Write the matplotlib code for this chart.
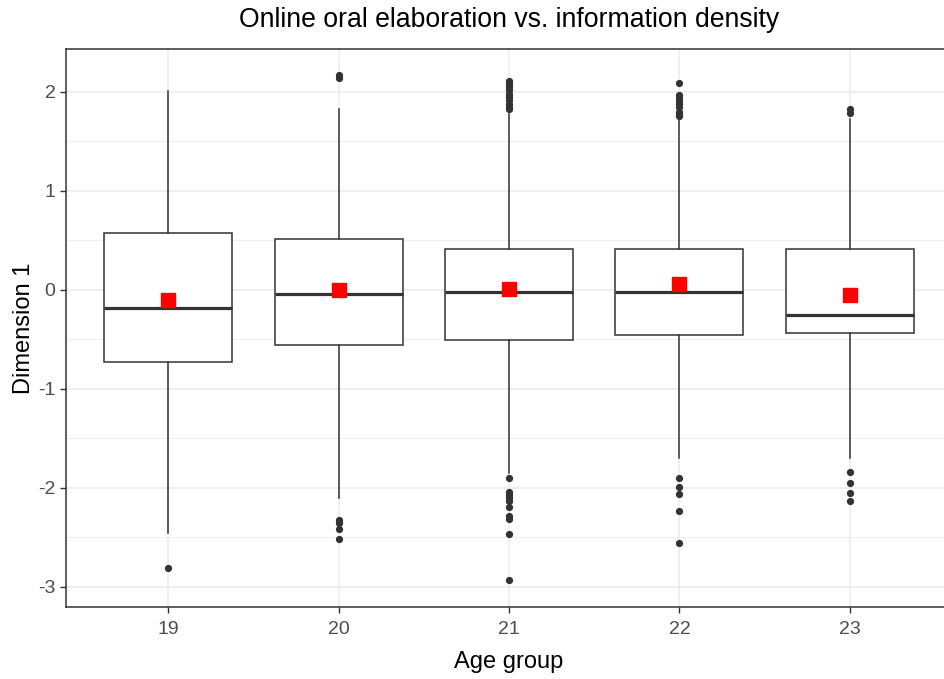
import numpy as np
import matplotlib.pyplot as plt
from matplotlib.ticker import MultipleLocator

plt.rcParams.update({
    'font.family': ['Liberation Sans', 'DejaVu Sans'],
    'axes.unicode_minus': False,
    'figure.dpi': 100,
})

# Summary statistics per age group (Dimension 1 scores)
groups = ['19', '20', '21', '22', '23']
q1 = [-0.724, -0.56, -0.51, -0.46, -0.44]
medians = [-0.187, -0.045, -0.022, -0.022, -0.257]
q3 = [0.577, 0.509, 0.41, 0.41, 0.41]
whisk_lo = [-2.46, -2.10, -1.85, -1.70, -1.70]
whisk_hi = [2.01, 1.83, 1.77, 1.715, 1.72]
means = [-0.106, -0.005, 0.012, 0.062, -0.055]
outliers = [
    [-2.81],
    [2.14, 2.17, -2.32, -2.35, -2.41, -2.515],
    [2.11, 2.08, 2.05, 2.02, 1.98, 1.95, 1.92, 1.88, 1.85, 1.83,
     -1.90, -2.04, -2.07, -2.10, -2.13, -2.19, -2.28, -2.31, -2.465, -2.925],
    [2.085, 1.97, 1.94, 1.91, 1.88, 1.85, 1.80, 1.77, 1.75,
     -1.90, -1.99, -2.065, -2.23, -2.56],
    [1.83, 1.78, -1.84, -1.95, -2.05, -2.135],
]

stats = []
for i, g in enumerate(groups):
    stats.append(dict(label=g, q1=q1[i], med=medians[i], q3=q3[i],
                      whislo=whisk_lo[i], whishi=whisk_hi[i],
                      mean=means[i], fliers=np.array(outliers[i])))

dark = '#333333'
fig = plt.figure(figsize=(9.45, 6.79))
ax = fig.add_axes([66 / 945, 1 - 606.7 / 679, 886 / 945, (606.7 - 49.3) / 679])

positions = np.arange(len(groups))
ax.bxp(stats, positions=positions, widths=0.75, showcaps=False, showmeans=True,
       patch_artist=True, zorder=3,
       boxprops=dict(facecolor='white', edgecolor=dark, linewidth=1.1),
       whiskerprops=dict(color=dark, linewidth=1.1),
       medianprops=dict(color=dark, linewidth=2.3),
       flierprops=dict(marker='o', markerfacecolor=dark, markeredgecolor=dark,
                       markersize=4.2, linestyle='none'),
       meanprops=dict(marker='s', markerfacecolor='red', markeredgecolor='red',
                      markersize=9.5))

ax.set_xlim(-0.6, 4.6)
ax.set_ylim(-3.199, 2.428)
ax.yaxis.set_major_locator(MultipleLocator(1))
ax.yaxis.set_minor_locator(MultipleLocator(0.5))
ax.set_xticks(positions, groups)

ax.set_axisbelow(True)
ax.grid(True, which='major', color='#EBEBEB', linewidth=1.1)
ax.grid(True, which='minor', axis='y', color='#EBEBEB', linewidth=0.6)
ax.tick_params(axis='both', which='major', direction='out', length=4.5, width=1.0,
               color=dark, labelcolor='#4D4D4D', labelsize=14, pad=3)
ax.tick_params(axis='x', which='major', pad=6)
ax.tick_params(axis='y', which='minor', length=0)

for side in ['left', 'top', 'bottom', 'right']:
    ax.spines[side].set_color(dark)
    ax.spines[side].set_linewidth(1.1)

ax.set_xlabel('Age group', fontsize=17, color='black', labelpad=9)
ax.set_ylabel('Dimension 1', fontsize=17, color='black', labelpad=2)
fig.text(509 / 945, 1 - 20 / 679, 'Online oral elaboration vs. information density',
         fontsize=19.2, ha='center', va='center', color='black')

fig.savefig('out.png', dpi=100)
